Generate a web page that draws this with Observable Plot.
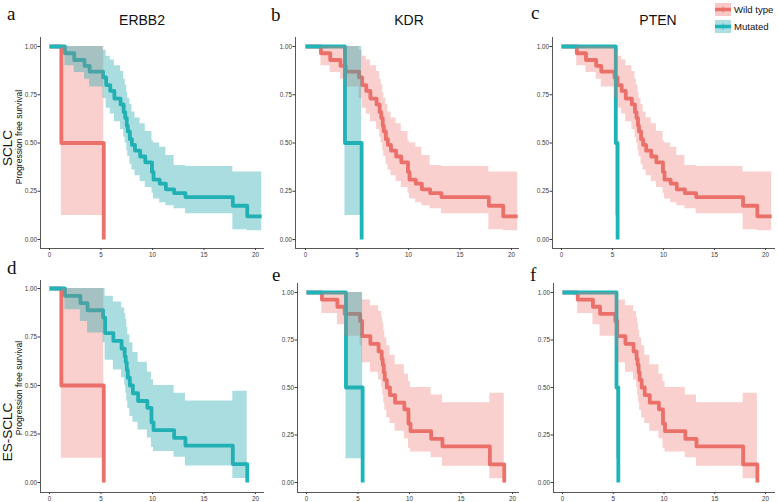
<!DOCTYPE html>
<html>
<head>
<meta charset="utf-8">
<script src="https://cdn.jsdelivr.net/npm/d3@7"></script>
<script src="https://cdn.jsdelivr.net/npm/@observablehq/plot@0.6"></script>
<style>
  body { margin: 0; background: #fff; }
  #wrap { position: relative; width: 778px; height: 502px; overflow: hidden; background: #fff;
          font-family: "Liberation Sans", Arial, sans-serif; color: #111; }
  .abs { position: absolute; white-space: nowrap; line-height: 1; }
  .letter { font-family: "Liberation Serif", "DejaVu Serif", serif; font-size: 19px; }
  .title { font-size: 14px; transform: translateX(-50%); }
  .rot { transform: translate(-50%, -50%) rotate(-90deg); }
  .cohort { font-size: 13.5px; }
  .ylab { font-size: 8.6px; }
  .leg { font-size: 9.6px; }
</style>
</head>
<body>
<div id="wrap"></div>
<script>
// ---------------- data ----------------
const genes = ["ERBB2", "KDR", "PTEN"];
const panelLetters = [["a", "b", "c"], ["d", "e", "f"]];
const cohorts = ["SCLC", "ES-SCLC"];
const groups = ["Wild type", "Mutated"];
const yAxisTitle = "Progression free survival";
const xTicks = [0, 5, 10, 15, 20];
const yTicks = [0, 0.25, 0.5, 0.75, 1];

// SCLC cohort, large group (time in months, last entry = end of follow-up)
const sclcTime  = [0, 1.5, 2.4, 3.4, 3.9, 5.2, 5.5, 5.9, 6.3, 6.9, 7.2, 7.35, 7.5, 7.6, 7.8, 8.0, 8.3, 8.8, 9.3, 9.95, 10.1, 10.7, 11.3, 12.1, 13.2, 17.8, 19.2, 20.6];
const sclcSurv  = [1, 0.965, 0.93, 0.90, 0.87, 0.84, 0.80, 0.77, 0.73, 0.70, 0.66, 0.63, 0.59, 0.56, 0.52, 0.49, 0.46, 0.43, 0.40, 0.35, 0.31, 0.29, 0.26, 0.24, 0.22, 0.175, 0.12, 0.12];
const sclcUpper = [1, 1, 1, 1, 1, 0.98, 0.95, 0.93, 0.90, 0.87, 0.83, 0.80, 0.76, 0.73, 0.70, 0.66, 0.63, 0.60, 0.56, 0.51, 0.50, 0.478, 0.435, 0.383, 0.378, 0.35, 0.35, 0.35];
const sclcLower = [1, 0.90, 0.865, 0.83, 0.79, 0.73, 0.68, 0.65, 0.61, 0.57, 0.53, 0.50, 0.46, 0.43, 0.39, 0.36, 0.33, 0.30, 0.27, 0.24, 0.21, 0.19, 0.175, 0.159, 0.133, 0.05, 0.045, 0.045];

// ES-SCLC cohort, large group
const esTime  = [0, 1.5, 3.0, 3.7, 5.2, 5.4, 6.2, 7.0, 7.3, 7.4, 7.5, 7.6, 7.8, 8.1, 8.6, 9.5, 9.9, 10.1, 12.1, 13.2, 17.8, 19.2];
const esSurv  = [1, 0.962, 0.925, 0.888, 0.85, 0.77, 0.73, 0.69, 0.65, 0.62, 0.58, 0.54, 0.50, 0.46, 0.42, 0.385, 0.31, 0.27, 0.23, 0.19, 0.095, 0];
const esUpper = [1, 1, 1, 1, 1, 0.96, 0.93, 0.90, 0.87, 0.84, 0.80, 0.76, 0.72, 0.67, 0.62, 0.57, 0.53, 0.50, 0.46, 0.42, 0.47, 0.47];
const esLower = [1, 0.89, 0.83, 0.77, 0.72, 0.63, 0.58, 0.54, 0.50, 0.46, 0.42, 0.38, 0.34, 0.31, 0.27, 0.23, 0.18, 0.16, 0.13, 0.085, 0.02, 0.02];

// small groups (two patients each)
const erbb2WtTime  = [0, 1.15, 5.27];
const erbb2WtSurv  = [1, 0.5, 0];
const erbb2WtUpper = [1, 1, 1];
const erbb2WtLower = [1, 0.125, 0.125];

const kdrMutTime  = [0, 3.83, 5.45];
const kdrMutSurv  = [1, 0.5, 0];
const kdrMutUpper = [1, 1, 1];
const kdrMutLower = [1, 0.125, 0.125];

const ptenMutTime  = [0, 5.32, 5.5];
const ptenMutSurv  = [1, 0.5, 0];
const ptenMutUpper = [1, 1, 1];
const ptenMutLower = [1, 0.125, 0.125];

// ---------------- build ----------------
const curve = (time, surv, upper, lower) => time.map((t, i) => ({t, s: surv[i], hi: upper[i], lo: lower[i]}));
const sclcAll = curve(sclcTime, sclcSurv, sclcUpper, sclcLower);
const esAll = curve(esTime, esSurv, esUpper, esLower);
const erbb2Wt = curve(erbb2WtTime, erbb2WtSurv, erbb2WtUpper, erbb2WtLower);
const kdrMut = curve(kdrMutTime, kdrMutSurv, kdrMutUpper, kdrMutLower);
const ptenMut = curve(ptenMutTime, ptenMutSurv, ptenMutUpper, ptenMutLower);

const panelsData = [
  [{wt: erbb2Wt, mut: sclcAll}, {wt: sclcAll, mut: kdrMut}, {wt: sclcAll, mut: ptenMut}],
  [{wt: erbb2Wt, mut: esAll},   {wt: esAll,   mut: kdrMut}, {wt: esAll,   mut: ptenMut}]
];

const RED = "#EC716B", TEAL = "#1CB6BA";
const RED_BAND = "#EC716B", TEAL_BAND = "#2AA9B0";

// pixel layout of each panel
const layout = [
  [{axL: 40, x0: 49, x20: 255, axR: 264, axT: 37, y1: 46, y0: 239, axB: 248},
   {axL: 295, x0: 305, x20: 511, axR: 519, axT: 37, y1: 46, y0: 239, axB: 248},
   {axL: 552, x0: 561, x20: 765, axR: 775, axT: 37, y1: 46, y0: 239, axB: 248}],
  [{axL: 40, x0: 49, x20: 255, axR: 264, axT: 280, y1: 288, y0: 482, axB: 492},
   {axL: 297, x0: 306, x20: 512, axR: 519, axT: 283, y1: 292, y0: 482, axB: 492},
   {axL: 553, x0: 562, x20: 765, axR: 775, axT: 283, y1: 292, y0: 482, axB: 492}]
];

const wrap = document.getElementById("wrap");

function addText(cls, text, left, top, extraStyle = "") {
  const d = document.createElement("div");
  d.className = "abs " + cls;
  d.textContent = text;
  d.style.cssText += `left:${left}px;top:${top}px;` + extraStyle;
  wrap.appendChild(d);
  return d;
}

function panel(L, data) {
  const mL = 30, mR = 4, mT = 4, mB = 14;
  const kx = (L.x20 - L.x0) / 20;
  const xDom = [(L.axL - L.x0) / kx, (L.axR - L.x0) / kx];
  const ky = L.y0 - L.y1;
  const yDom = [-(L.axB - L.y0) / ky, 1 + (L.y1 - L.axT) / ky];
  const p = Plot.plot({
    width: (L.axR - L.axL) + mL + mR,
    height: (L.axB - L.axT) + mT + mB,
    marginLeft: mL, marginRight: mR, marginTop: mT, marginBottom: mB,
    x: {domain: xDom, ticks: xTicks, tickSize: 2, tickPadding: 2, label: null},
    y: {domain: yDom, ticks: yTicks, tickFormat: d => d.toFixed(2), tickSize: 2.5, tickPadding: 1, label: null},
    style: {fontSize: "6.3px", color: "#3a3a3a", fontFamily: "Liberation Sans, Arial, sans-serif", background: "transparent", overflow: "visible"},
    marks: [
      Plot.ruleX([xDom[0]], {stroke: "#444", strokeWidth: 0.9}),
      Plot.ruleY([yDom[0]], {stroke: "#444", strokeWidth: 0.9}),
      Plot.line(data.wt, {x: "t", y: "s", curve: "step-after", stroke: RED, strokeWidth: 3.8, strokeLinecap: "butt"}),
      Plot.line(data.mut, {x: "t", y: "s", curve: "step-after", stroke: TEAL, strokeWidth: 3.8, strokeLinecap: "butt"}),
      Plot.areaY(data.wt, {x: "t", y1: "lo", y2: "hi", curve: "step-after", fill: RED_BAND, fillOpacity: 0.33}),
      Plot.areaY(data.mut, {x: "t", y1: "lo", y2: "hi", curve: "step-after", fill: TEAL_BAND, fillOpacity: 0.4})
    ]
  });
  p.style.position = "absolute";
  p.style.left = (L.axL - mL) + "px";
  p.style.top = (L.axT - mT) + "px";
  wrap.appendChild(p);
}

for (let r = 0; r < 2; r++) for (let c = 0; c < 3; c++) panel(layout[r][c], panelsData[r][c]);

// panel letters
const letterPos = [[[7, 4], [271, 5], [531, 3]], [[7, 258], [272, 265], [530, 265]]];
for (let r = 0; r < 2; r++) for (let c = 0; c < 3; c++)
  addText("letter", panelLetters[r][c], letterPos[r][c][0], letterPos[r][c][1]);

// gene titles
const titleX = [142, 409, 658];
genes.forEach((g, i) => addText("title", g, titleX[i], 13));

// row labels
const cohortY = [148, 432];
const ylabY = [137, 388];
cohorts.forEach((name, r) => {
  addText("cohort rot", name, 7.5, cohortY[r]);
  addText("ylab rot", yAxisTitle, 18.5, ylabY[r]);
});

// legend
const legColors = [RED, TEAL];
const legBands = [RED_BAND, TEAL_BAND];
groups.forEach((g, i) => {
  const y = 3 + i * 17;
  const sw = document.createElementNS("http://www.w3.org/2000/svg", "svg");
  sw.setAttribute("width", 16); sw.setAttribute("height", 13);
  sw.style.cssText = `position:absolute;left:715px;top:${y}px;`;
  sw.innerHTML = `<rect x="0" y="0" width="16" height="13" fill="${legBands[i]}" fill-opacity="0.38"/>` +
                 `<line x1="0" x2="16" y1="6.5" y2="6.5" stroke="${legColors[i]}" stroke-width="3.5"/>` +
                 `<line x1="8" x2="8" y1="3.5" y2="9.5" stroke="${legColors[i]}" stroke-width="1"/>`;
  wrap.appendChild(sw);
  addText("leg", g, 734, y + 2);
});
</script>
</body>
</html>
